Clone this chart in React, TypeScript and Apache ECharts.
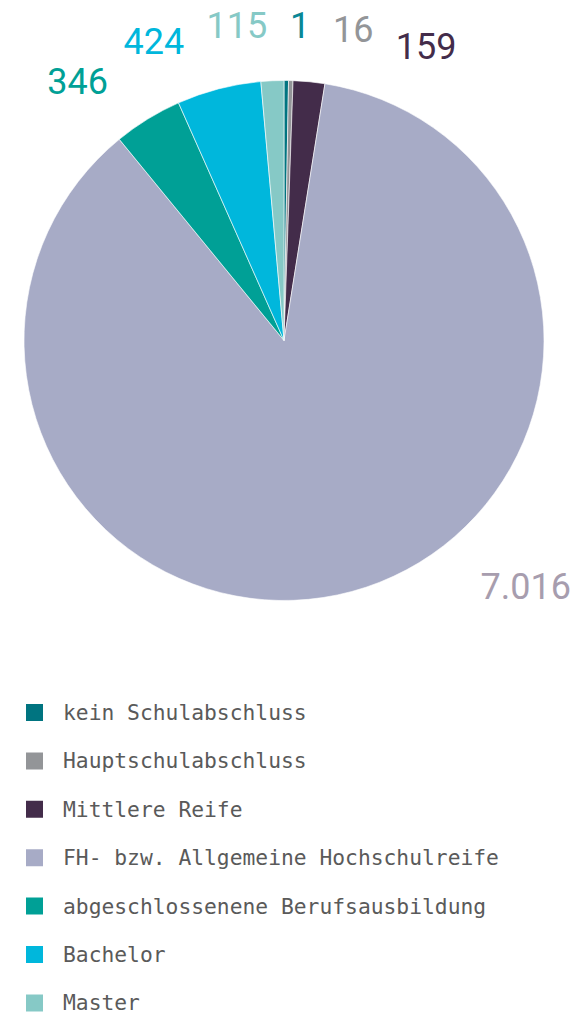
import React, { useEffect, useRef } from 'react';
import * as echarts from 'echarts';

// ---- data ----
const categories = [
  'kein Schulabschluss',
  'Hauptschulabschluss',
  'Mittlere Reife',
  'FH- bzw. Allgemeine Hochschulreife',
  'abgeschlossenene Berufsausbildung',
  'Bachelor',
  'Master',
];
const values = [1, 16, 159, 7016, 346, 424, 115];
const sliceColors = ['#007480', '#939598', '#432c4a', '#a7abc6', '#00a096', '#00b7dc', '#86c9c6'];
const labelColors = ['#0a8796', '#939598', '#432c4a', '#a79dae', '#00a096', '#00b7dc', '#86c9c6'];

// ---- layout / style ----
const W = 575;
const H = 1014;
const CX = 284;
const CY = 340.5;
const R = 260;
const MIN_ANGLE = 1;
const LABEL_FONT_SIZE = 36;
const LABEL_FONT = `400 ${LABEL_FONT_SIZE}px Roboto`;
const LABEL_OFFSET = 43; // distance from pie edge to nearest label edge
const LABEL_GAP = 23.5; // spacing between neighbouring labels (px)
const CLUSTER_SHIFT = 2; // degrees clockwise applied to merged label clusters
const LABEL_DY = 2; // baseline correction
const DIGIT_H = 26;

function fmt(v: number): string {
  return String(v).replace(/\B(?=(\d{3})+(?!\d))/g, '.');
}

function sliceMidAngles(): number[] {
  const sum = values.reduce((a, b) => a + b, 0);
  let angles = values.map((v) => (v / sum) * 360);
  const small = angles.map((a) => a < MIN_ANGLE);
  const nSmall = small.filter(Boolean).length;
  const largeSum = angles.reduce((s, a, i) => (small[i] ? s : s + a), 0);
  const scale = (360 - nSmall * MIN_ANGLE) / largeSum;
  angles = angles.map((a, i) => (small[i] ? MIN_ANGLE : a * scale));
  let cur = 0;
  return angles.map((a) => {
    const m = cur + a / 2;
    cur += a;
    return m > 180 ? m - 360 : m;
  });
}

function measureWidths(): number[] {
  const cvs = document.createElement('canvas');
  const ctx = cvs.getContext('2d');
  if (!ctx) return values.map((v) => fmt(v).length * 20);
  ctx.font = LABEL_FONT;
  return values.map((v) => ctx.measureText(fmt(v)).width);
}

function computeLabelPositions(): { x: number; y: number }[] {
  const widths = measureWidths();
  const mids = sliceMidAngles();
  const RC = R + LABEL_OFFSET + 19;
  const degPx = (RC * Math.PI) / 180;
  const order = mids.map((_, i) => i).sort((a, b) => mids[a] - mids[b]);
  const sep = (a: number, b: number) => (widths[a] / 2 + widths[b] / 2 + LABEL_GAP) / degPx;
  type Cl = { idx: number[]; start: number };
  const offsets = (c: Cl) => {
    const o = [0];
    for (let k = 1; k < c.idx.length; k++) o.push(o[k - 1] + sep(c.idx[k - 1], c.idx[k]));
    return o;
  };
  const avg = (a: number[]) => a.reduce((s, x) => s + x, 0) / a.length;
  const clusters: Cl[] = order.map((i) => ({ idx: [i], start: mids[i] }));
  let changed = true;
  while (changed) {
    changed = false;
    for (let k = 0; k < clusters.length - 1; k++) {
      const a = clusters[k];
      const b = clusters[k + 1];
      const oa = offsets(a);
      const endA = a.start + oa[oa.length - 1];
      if (endA + sep(a.idx[a.idx.length - 1], b.idx[0]) > b.start) {
        const merged: Cl = { idx: [...a.idx, ...b.idx], start: 0 };
        const om = offsets(merged);
        merged.start = avg(merged.idx.map((i) => mids[i])) - avg(om);
        clusters.splice(k, 2, merged);
        changed = true;
        break;
      }
    }
  }
  const theta: number[] = new Array(values.length).fill(0);
  clusters.forEach((c) => {
    const o = offsets(c);
    const shift = c.idx.length > 1 ? CLUSTER_SHIFT : 0;
    c.idx.forEach((i, k) => {
      theta[i] = c.start + o[k] + shift;
    });
  });
  const bottom = CY + R - 2;
  return theta.map((t0, i) => {
    const place = (t: number) => {
      const rad = (t * Math.PI) / 180;
      const s = Math.sin(rad);
      const c = Math.cos(rad);
      const d = R + LABEL_OFFSET + (Math.abs(s) * widths[i]) / 2 + (Math.abs(c) * DIGIT_H) / 2;
      return { x: CX + d * s, y: CY - d * c };
    };
    let t = t0;
    let p = place(t);
    let guard = 0;
    while (p.y + DIGIT_H / 2 > bottom && guard++ < 1800) {
      t += t > 0 ? -0.1 : 0.1;
      p = place(t);
    }
    return { x: p.x, y: p.y + LABEL_DY };
  });
}

export default function App() {
  const ref = useRef<HTMLDivElement>(null);

  useEffect(() => {
    document.body.style.margin = '0';
    document.body.style.overflow = 'hidden';
    if (!ref.current) return;
    const chart = echarts.init(ref.current, undefined, { renderer: 'svg' });
    const positions = computeLabelPositions();

    chart.setOption({
      animation: false,
      backgroundColor: '#ffffff',
      legend: {
        orient: 'vertical',
        left: 24,
        top: 701.5,
        height: 320,
        padding: 0,
        itemWidth: 19,
        itemHeight: 19,
        itemGap: 26.4,
        icon: 'rect',
        selectedMode: false,
        textStyle: {
          fontFamily: 'DejaVu Sans Mono',
          fontSize: 21.3,
          color: '#5a5a5a',
          lineHeight: 22,
          padding: [0, 0, 0, 14],
        },
        data: categories,
      },
      series: [
        {
          type: 'pie',
          center: [CX, CY],
          radius: R,
          startAngle: 90,
          clockwise: true,
          minAngle: MIN_ANGLE,
          avoidLabelOverlap: false,
          label: {
            show: true,
            position: 'outside',
            formatter: (p: any) => fmt(p.value),
            fontFamily: 'Roboto',
            fontWeight: 400,
            fontSize: LABEL_FONT_SIZE,
          },
          labelLine: { show: false },
          labelLayout: (params: any) => {
            const p = positions[params.dataIndex];
            return { x: p.x, y: p.y, align: 'center', verticalAlign: 'middle' };
          },
          itemStyle: { borderColor: '#ffffff', borderWidth: 0.6 },
          emphasis: { disabled: true },
          data: values.map((v, i) => ({
            name: categories[i],
            value: v,
            itemStyle: { color: sliceColors[i] },
            label: { color: labelColors[i] },
          })),
        },
      ],
    });

    return () => {
      chart.dispose();
    };
  }, []);

  return <div ref={ref} style={{ width: W, height: H }} />;
}
